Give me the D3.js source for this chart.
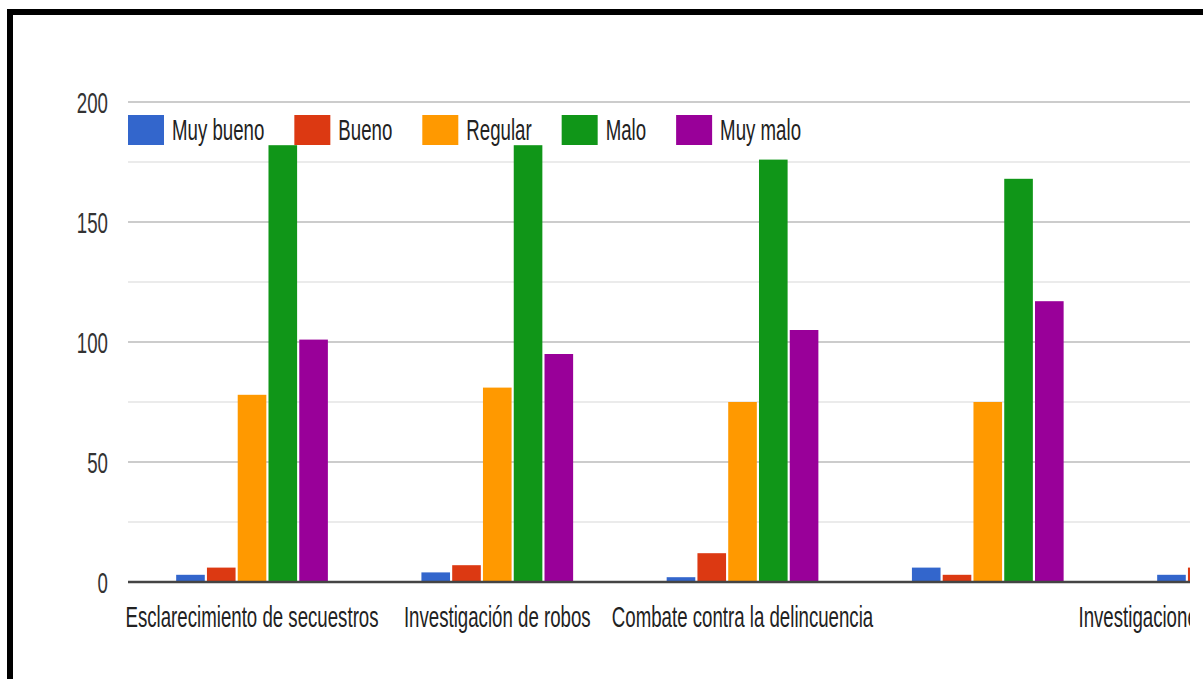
<!DOCTYPE html>
<html><head><meta charset="utf-8">
<script src="https://cdn.jsdelivr.net/npm/d3@7"></script>
<style>
body{margin:0;background:#fff;overflow:hidden}
text{font-family:"Liberation Sans",Arial,sans-serif}
</style>
</head><body>
<svg id="chart" width="1203" height="679"></svg>
<script>
// ---- data ----
const categories = ["Esclarecimiento de secuestros", "Investigación de robos", "Combate contra la delincuencia", "", "Investigaciones de delitos financieros"];
const seriesNames = ["Muy bueno", "Bueno", "Regular", "Malo", "Muy malo"];
const muyBueno = [3, 4, 2, 6, 3];
const bueno    = [6, 7, 12, 3, 6];
const regular  = [78, 81, 75, 75, null];
const malo     = [182, 182, 176, 168, null];
const muyMalo  = [101, 95, 105, 117, null];
const yTicks = [0, 50, 100, 150, 200];
const yMinorTicks = [25, 75, 125, 175];
const colors = ["#3366cc", "#dc3912", "#ff9900", "#109618", "#990099"];

const seriesValues = [muyBueno, bueno, regular, malo, muyMalo];

// ---- layout ----
const W = 1203, H = 679;
const plotLeft = 128, plotRight = 1190, plotTop = 102, plotBottom = 582;
const step = 245.25;
const fs = 30;
const sx = 0.667 * 28 / fs;   // horizontal squeeze of text (as in the reference)

const svg = d3.select("#chart");
svg.append("rect").attr("width", W).attr("height", H).attr("fill", "#fff");

const defs = svg.append("defs");
defs.append("clipPath").attr("id", "clip")
  .append("rect").attr("x", 0).attr("y", 0).attr("width", plotRight).attr("height", H);

const x = d3.scaleBand().domain(d3.range(categories.length))
  .range([plotLeft + 1.4, plotLeft + 1.4 + step * categories.length])
  .paddingInner(0).paddingOuter(0);
const xs = d3.scaleBand().domain(d3.range(seriesNames.length))
  .range([0, x.bandwidth()]).paddingInner(0.07).paddingOuter(1.52);
const y = d3.scaleLinear().domain([0, 200]).range([plotBottom, plotTop]);

const g = svg.append("g").attr("clip-path", "url(#clip)");

// gridlines
g.selectAll("line.minor").data(yMinorTicks).join("line")
  .attr("x1", plotLeft).attr("x2", plotRight)
  .attr("y1", d => y(d)).attr("y2", d => y(d))
  .attr("stroke", "#ebebeb").attr("stroke-width", 2);
g.selectAll("line.major").data(yTicks.filter(d => d !== 0)).join("line")
  .attr("x1", plotLeft).attr("x2", plotRight)
  .attr("y1", d => y(d)).attr("y2", d => y(d))
  .attr("stroke", "#cccccc").attr("stroke-width", 2);

// bars
const barData = [];
seriesValues.forEach((vals, si) => vals.forEach((v, ci) => {
  if (v !== null) barData.push({si, ci, v});
}));
g.selectAll("rect.bar").data(barData).join("rect")
  .attr("class", "bar")
  .attr("x", d => x(d.ci) + xs(d.si))
  .attr("width", xs.bandwidth())
  .attr("y", d => y(d.v))
  .attr("height", d => y(0) - y(d.v))
  .attr("fill", d => colors[d.si]);

// baseline
g.append("line").attr("x1", plotLeft).attr("x2", plotRight)
  .attr("y1", y(0)).attr("y2", y(0))
  .attr("stroke", "#444").attr("stroke-width", 2.6);

// category labels
g.selectAll("g.cat").data(categories).join("g")
  .attr("transform", (d, i) => `translate(${x(i) + x.bandwidth() / 2},${y(0) + 45})`)
  .append("text")
  .attr("transform", `scale(${sx},1)`)
  .attr("text-anchor", "middle")
  .attr("font-size", fs).attr("fill", "#222")
  .text(d => d);

// y tick labels
svg.selectAll("g.ytick").data(yTicks).join("g")
  .attr("transform", d => `translate(108,${y(d) + 11})`)
  .append("text")
  .attr("transform", `scale(${sx},1)`)
  .attr("text-anchor", "end")
  .attr("font-size", fs).attr("fill", "#333")
  .text(d => d);

// legend
let lx = plotLeft;
const legY = 115, swW = 36, swH = 30;
seriesNames.forEach((name, i) => {
  svg.append("rect").attr("x", lx).attr("y", legY).attr("width", swW).attr("height", swH)
    .attr("fill", colors[i]);
  const tg = svg.append("g").attr("transform", `translate(${lx + swW + 8},${legY + 25})`);
  const t = tg.append("text").attr("transform", `scale(${sx},1)`)
    .attr("font-size", fs).attr("fill", "#222").text(name);
  const w = t.node().getComputedTextLength() * sx;
  lx += swW + 8 + w + 30;
});

// black frame
svg.append("rect").attr("x", 10).attr("y", 12).attr("width", 1400).attr("height", 900)
  .attr("fill", "none").attr("stroke", "#000").attr("stroke-width", 6);
</script>
</body></html>
